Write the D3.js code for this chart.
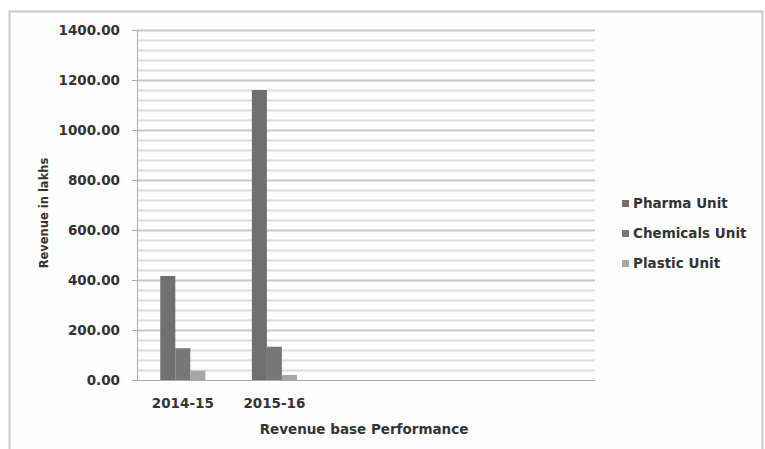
<!DOCTYPE html>
<html>
<head>
<meta charset="utf-8">
<script src="https://cdn.jsdelivr.net/npm/d3@7"></script>
<style>
    body { margin: 0; background: #fff; }
    text { font-family: "DejaVu Sans", sans-serif; fill: #333; }
</style>
</head>
<body>
<div id="chart"></div>
<script>
// revenue by unit, two financial years

const years = ["2014-15", "2015-16"];
const slots = ["2014-15", "2015-16", "s3", "s4", "s5"];
const units = ["Pharma Unit", "Chemicals Unit", "Plastic Unit"];
const pharma = [416, 1160];
const chemicals = [127, 133];
const plastic = [37, 20];
const yTicks = [0, 200, 400, 600, 800, 1000, 1200, 1400];
const colors = ["#707070", "#787878", "#a6a6a6"];

const svgWidth = 765;
const svgHeight = 449;

const margin = { top: 30, right: 170, bottom: 69, left: 137 };
const width = 595 - margin.left;
const height = 380 - margin.top;

const svg = d3.select("#chart")
    .append("svg")
    .attr("width", svgWidth)
    .attr("height", svgHeight);

// outer frame
svg.append("rect")
    .attr("x", 9.5)
    .attr("y", 11.5)
    .attr("width", 753)
    .attr("height", 450)
    .attr("fill", "#fdfdfd")
    .attr("stroke", "#c8c8c8")
    .attr("stroke-width", 2);

const chartGroup = svg.append("g")
    .attr("transform", `translate(${margin.left}, ${margin.top})`);

const xScale = d3.scaleBand()
    .domain(slots)
    .range([0, width]);

const xInner = d3.scaleBand()
    .domain(units)
    .range([0, xScale.bandwidth()])
    .paddingInner(0)
    .paddingOuter(1.55);

const yScale = d3.scaleLinear()
    .domain([0, 1400])
    .range([height, 0]);

// gridlines: minor every 40, major every 200
const minor = d3.range(40, 1400, 40).filter(v => v % 200 !== 0);
chartGroup.selectAll(".minor")
    .data(minor)
    .enter()
    .append("line")
    .attr("x1", 0)
    .attr("x2", width)
    .attr("y1", d => Math.round(yScale(d)) + 0.5)
    .attr("y2", d => Math.round(yScale(d)) + 0.5)
    .attr("stroke", "#dcdcdc")
    .attr("stroke-width", 2);

chartGroup.selectAll(".major")
    .data(yTicks.slice(1))
    .enter()
    .append("line")
    .attr("x1", 0)
    .attr("x2", width)
    .attr("y1", d => Math.round(yScale(d)) + 0.5)
    .attr("y2", d => Math.round(yScale(d)) + 0.5)
    .attr("stroke", "#c8c8c8")
    .attr("stroke-width", 2);

// bars
const rows = years.map((y, i) => ({
    year: y,
    values: [pharma[i], chemicals[i], plastic[i]]
}));

const groups = chartGroup.selectAll(".grp")
    .data(rows)
    .enter()
    .append("g")
    .attr("transform", d => `translate(${xScale(d.year)}, 0)`);

groups.selectAll("rect")
    .data(d => d.values.map((v, j) => ({ unit: units[j], value: v, j: j })))
    .enter()
    .append("rect")
    .attr("x", d => xInner(d.unit))
    .attr("y", d => yScale(d.value))
    .attr("width", xInner.bandwidth())
    .attr("height", d => height - yScale(d.value))
    .attr("fill", d => colors[d.j]);

// axes
const leftAxis = d3.axisLeft(yScale)
    .tickValues(yTicks)
    .tickSize(5)
    .tickPadding(12)
    .tickFormat(d3.format(".2f"));

const yAxis = chartGroup.append("g")
    .call(leftAxis);
yAxis.select(".domain").attr("stroke", "#aaa");
yAxis.selectAll(".tick line").attr("stroke", "#aaa");
yAxis.selectAll("text")
    .attr("font-size", 13.5)
    .attr("font-weight", "bold")
    .attr("fill", "#333");

const bottomAxis = d3.axisBottom(xScale)
    .tickSize(0)
    .tickPadding(18)
    .tickFormat(d => years.includes(d) ? d : "");

const xAxis = chartGroup.append("g")
    .attr("transform", `translate(0, ${height})`)
    .call(bottomAxis);
xAxis.select(".domain").attr("stroke", "#aaa");
xAxis.selectAll("text")
    .attr("font-size", 13.5)
    .attr("font-weight", "bold")
    .attr("fill", "#333");

// axis titles
svg.append("text")
    .attr("transform", "translate(48, 213) rotate(-90)")
    .attr("text-anchor", "middle")
    .attr("font-size", 11.5)
    .attr("font-weight", "bold")
    .text("Revenue in lakhs");

svg.append("text")
    .attr("x", 364)
    .attr("y", 434)
    .attr("text-anchor", "middle")
    .attr("font-size", 13.5)
    .attr("font-weight", "bold")
    .text("Revenue base Performance");

// legend
const legend = svg.append("g")
    .attr("transform", "translate(622, 204)");

units.forEach((u, i) => {
    legend.append("rect")
        .attr("x", 0)
        .attr("y", i * 30 - 4)
        .attr("width", 7)
        .attr("height", 7)
        .attr("fill", colors[i]);
    legend.append("text")
        .attr("x", 11)
        .attr("y", i * 30 + 4)
        .attr("font-size", 13.5)
        .attr("font-weight", "bold")
        .text(u);
});
</script>
</body>
</html>
